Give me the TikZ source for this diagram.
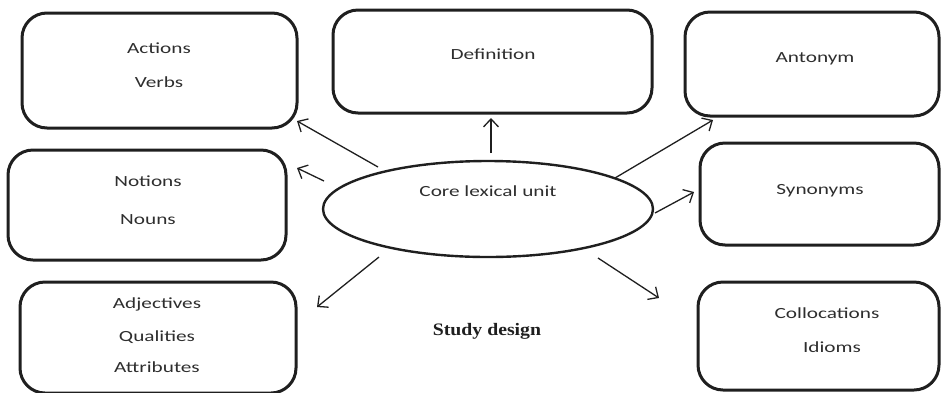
\documentclass[tikz,border=0pt]{standalone}
\usepackage{fontspec}
\setmainfont{Carlito}[FakeStretch=1.37]
\newfontfamily\titlefont{Liberation Serif}[FakeStretch=1.13]
\usetikzlibrary{arrows.meta,shapes.geometric}
\begin{document}
\begin{tikzpicture}[x=1pt,y=-1pt,
  box/.style={draw=black!88, line width=3pt, rounded corners=25pt, rectangle, inner sep=0pt},
  lbl/.style={font=\fontsize{15.5}{18}\selectfont, text=black!82, anchor=base, inner sep=0pt},
  conn/.style={draw=black!88, line width=1.3pt, -{Straight Barb[length=8pt,width=15pt,line width=1.3pt]}}]
\useasboundingbox (0,0) rectangle (942,392);
% boxes
\node[box, minimum width=275pt, minimum height=115pt] (actions) at (159.5,70.5) {};
\node[box, minimum width=319pt, minimum height=103pt] (definition) at (492.5,61.5) {};
\node[box, minimum width=254pt, minimum height=104pt] (antonym) at (812,64) {};
\node[box, minimum width=278pt, minimum height=110pt] (notions) at (147,205) {};
\node[box, minimum width=239pt, minimum height=102pt] (synonyms) at (819.5,194) {};
\node[box, minimum width=276pt, minimum height=111pt] (adjectives) at (158,337.5) {};
\node[box, minimum width=241pt, minimum height=108pt] (collocations) at (818.5,336) {};
\node[ellipse, draw=black!88, line width=2.4pt, minimum width=330pt, minimum height=96pt, inner sep=0pt] (core) at (488,209) {};
% texts
\node[lbl] (tActions) at (159,53) {Actions};
\node[lbl] (tVerbs) at (159,87) {Verbs};
\node[lbl] (tDefinition) at (493,59) {Definition};
\node[lbl] (tAntonym) at (815,62) {Antonym};
\node[lbl] (tNotions) at (148,186) {Notions};
\node[lbl] (tNouns) at (148,224) {Nouns};
\node[lbl] (tCore) at (488,196) {Core lexical unit};
\node[lbl] (tSynonyms) at (820,194) {Synonyms};
\node[lbl] (tAdjectives) at (157,308) {Adjectives};
\node[lbl] (tQualities) at (157,341) {Qualities};
\node[lbl] (tAttributes) at (157,372) {Attributes};
\node[lbl] (tCollocations) at (827,318) {Collocations};
\node[lbl] (tIdioms) at (832,352) {Idioms};
\node[anchor=base, inner sep=0pt, text=black!88, font=\titlefont\bfseries\fontsize{17.5}{20}\selectfont] (tStudy) at (487,335) {Study design};
% connector ends
\coordinate (sA) at (378,167); \coordinate (eA) at (297,121);
\coordinate (sD) at (491,153); \coordinate (eD) at (491,118);
\coordinate (sAn) at (615,178); \coordinate (eAn) at (713,120);
\coordinate (sN) at (324,181); \coordinate (eN) at (297,168);
\coordinate (sS) at (655,213); \coordinate (eS) at (694,192);
\coordinate (sAd) at (379,257); \coordinate (eAd) at (317,307);
\coordinate (sC) at (598,258); \coordinate (eC) at (659,298);
\draw[conn] (sA) -- (eA);
\draw[conn] (sD) -- (eD);
\draw[conn] (sAn) -- (eAn);
\draw[conn] (sN) -- (eN);
\draw[conn] (sS) -- (eS);
\draw[conn] (sAd) -- (eAd);
\draw[conn] (sC) -- (eC);
\end{tikzpicture}
\end{document}
